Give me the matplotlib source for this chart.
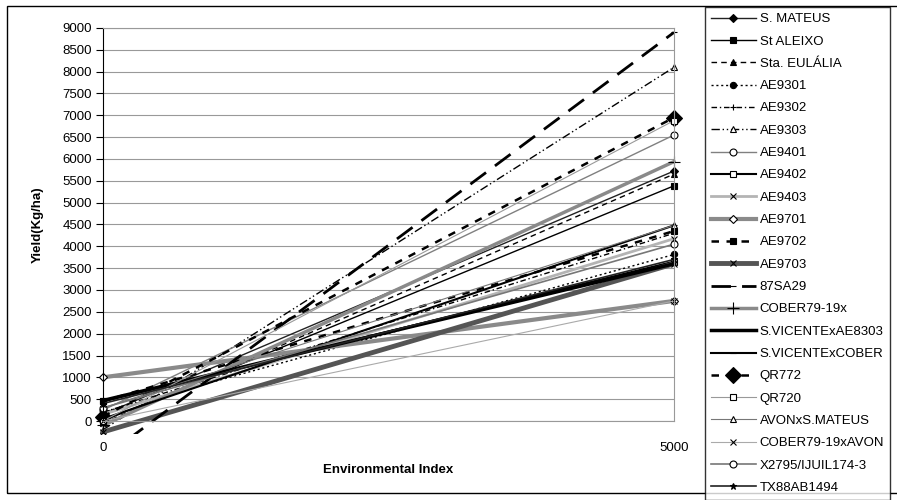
import matplotlib
matplotlib.use("Agg")
import matplotlib.pyplot as plt
from matplotlib.patches import Rectangle
from matplotlib.lines import Line2D

plt.rcParams['font.family'] = ['Liberation Sans', 'DejaVu Sans']

# environmental index at both ends of each regression line
x_env = [0, 5000]

names = ["S. MATEUS", "St ALEIXO", "Sta. EULÁLIA", "AE9301", "AE9302", "AE9303",
         "AE9401", "AE9402", "AE9403", "AE9701", "AE9702", "AE9703", "87SA29",
         "COBER79-19x", "S.VICENTExAE8303", "S.VICENTExCOBER", "QR772", "QR720",
         "AVONxS.MATEUS", "COBER79-19xAVON", "X2795/IJUIL174-3", "TX88AB1494"]

# yield at index 0 and at index 5000
y_start = [150, 0, -50, 200, 200, -200, 250, 450, 150, 1000, 450, -250, -850,
           -100, 470, 50, 100, 0, 300, 0, 300, 400]
y_end = [5725, 5386, 5655, 3813, 4300, 8100, 6550, 3650, 4175, 2750, 4350, 3600, 8900,
         5940, 3600, 4480, 6950, 6880, 4480, 2750, 4050, 3700]

# (color, linewidth, dashes, marker, markersize, marker face)
styles = [
    ('#222222', 1.0, None, 'D', 4, 'black'),
    ('black', 1.0, None, 's', 5, 'black'),
    ('black', 1.0, (4, 3), '^', 5, 'black'),
    ('black', 1.0, (1.5, 2), 'o', 4.5, 'black'),
    ('black', 1.0, (4, 2, 1, 2), '+', 5, 'black'),
    ('black', 1.0, (6, 2, 1, 2, 1, 2), '^', 5, 'white'),
    ('#808080', 1.0, None, 'o', 5, 'white'),
    ('black', 1.5, None, 's', 5, 'white'),
    ('#b4b4b4', 2.0, None, 'x', 4, 'black'),
    ('#8a8a8a', 3.0, None, 'D', 4.5, 'white'),
    ('black', 1.8, (3, 3), 's', 5, 'black'),
    ('#555555', 3.5, None, 'x', 4, 'black'),
    ('black', 2.0, (7, 4), '_', 5, 'black'),
    ('#8a8a8a', 2.5, None, '+', 9, 'black'),
    ('black', 2.5, None, None, 4, 'black'),
    ('black', 1.5, None, '_', 4, 'black'),
    ('black', 1.8, (3, 3), 'D', 8, 'black'),
    ('#999999', 0.8, None, 's', 5, 'white'),
    ('#777777', 0.8, None, '^', 5, 'white'),
    ('#aaaaaa', 0.8, None, 'x', 5, 'black'),
    ('#777777', 1.2, None, 'o', 5, 'white'),
    ('#222222', 1.2, None, '*', 5, 'black'),
]

fig = plt.figure(figsize=(8.97, 5.0), dpi=100)
ax = fig.add_axes([103 / 897, 1 - 421 / 500, 571 / 897, 393 / 500])

handles = []
for name, y0, y1, st in zip(names, y_start, y_end, styles):
    col, lw, dash, mk, ms, mfc = st
    ln, = ax.plot(x_env, [y0, y1], color=col, lw=lw, marker=mk, ms=ms,
                  mfc=mfc, mec='black', mew=0.8)
    if dash:
        ln.set_dashes(dash)
    # lines may run a little below the 0 gridline, as in the original
    ln.set_clip_path(Rectangle((-500, -300), 6000, 9800, transform=ax.transData))
    ln.set_clip_on(True)
    h = Line2D([], [], color=col, lw=lw, marker=mk, ms=ms, mfc=mfc, mec='black', mew=0.8)
    if dash:
        h.set_dashes(dash)
    handles.append(h)

ax.set_xlim(0, 5000)
ax.set_ylim(0, 9000)
ax.set_xticks([0, 5000])
ax.set_yticks(range(0, 9001, 500))
ax.yaxis.grid(True, color='#999999', lw=0.8)
ax.set_axisbelow(True)
ax.tick_params(axis='y', direction='out', length=5, labelsize=9.5, pad=3)
ax.tick_params(axis='x', length=0, labelsize=9.5, pad=15)
for s in ['top', 'right', 'bottom']:
    ax.spines[s].set_color('#999999')
ax.spines['left'].set_color('black')
ax.set_xlabel("Environmental Index", fontsize=9.5, fontweight='bold', labelpad=7)
ax.set_ylabel("Yield(Kg/ha)", fontsize=9.5, fontweight='bold', labelpad=13)

# chart border
fig.patches.append(Rectangle((7 / 897, 1 - 493 / 500), 1, 487 / 500, transform=fig.transFigure,
                             fill=False, ec='black', lw=1))

leg = fig.legend(handles, names, loc='upper left', bbox_to_anchor=(705 / 897, 1 - 7 / 500),
                 fontsize=9.5, handlelength=3.4, handletextpad=0.3, labelspacing=0.765,
                 borderaxespad=0, frameon=True, fancybox=False, edgecolor='black',
                 borderpad=0.45)
leg.get_frame().set_linewidth(1)

fig.savefig('out.png', dpi=100)
